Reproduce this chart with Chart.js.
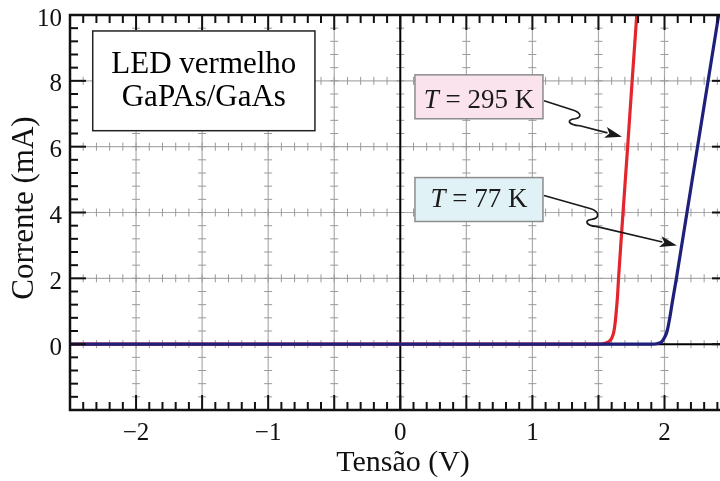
<!DOCTYPE html>
<html>
<head>
<meta charset="utf-8">
<script src="https://cdn.jsdelivr.net/npm/chart.js@4/dist/chart.umd.min.js"></script>
<style>
html,body{margin:0;padding:0;background:#fff;}
canvas{display:block;}
</style>
</head>
<body>
<canvas id="c" width="720" height="481"></canvas>
<script>
// ---- data ----
const xTicks = [-2, -1, 0, 1, 2];
const yTicks = [0, 2, 4, 6, 8, 10];

// T = 295 K (red)
const redV = [-2.5, 1.50, 1.55, 1.58, 1.60, 1.615, 1.625, 1.635, 1.645, 1.652, 1.686, 1.721, 1.755, 1.79, 1.80];
const redI = [0, 0, 0.03, 0.08, 0.18, 0.35, 0.6, 1.0, 1.5, 2, 4, 6, 8, 10, 10.6];

// T = 77 K (blue)
const blueV = [-2.5, 1.90, 1.95, 1.98, 2.00, 2.02, 2.04, 2.06, 2.09, 2.17, 2.25, 2.33, 2.41, 2.45];
const blueI = [0, 0, 0.02, 0.08, 0.2, 0.4, 0.8, 1.3, 2, 4, 6, 8, 10, 11];

const xTitle = 'Tensão (V)';
const yTitle = 'Corrente (mA)';
const boxTitle = ['LED vermelho', 'GaPAs/GaAs'];
const labelRed = ['T', ' = 295 K'];
const labelBlue = ['T', ' = 77 K'];

const SERIF = '"Liberation Serif", "Times New Roman", serif';

const toPts = (xs, ys) => xs.map((v, i) => ({x: v, y: ys[i]}));

const decor = {
  id: 'decor',
  beforeDatasetsDraw(chart) {
    const {ctx, chartArea: a, scales: {x, y}} = chart;
    ctx.save();
    ctx.lineCap = 'butt';
    // gray grid
    ctx.strokeStyle = '#ababab';
    ctx.lineWidth = 1.2;
    for (let i = -4; i <= 4; i++) {
      if (i === 0) continue;
      const px = x.getPixelForValue(i / 2);
      ctx.beginPath(); ctx.moveTo(px, a.top); ctx.lineTo(px, a.bottom); ctx.stroke();
    }
    for (let j = 1; j <= 4; j++) {
      const py = y.getPixelForValue(j * 2);
      ctx.beginPath(); ctx.moveTo(a.left, py); ctx.lineTo(a.right, py); ctx.stroke();
    }
    // little crosses along grid lines
    ctx.strokeStyle = '#9a9a9a';
    ctx.lineWidth = 1;
    for (let j = 0; j <= 4; j++) {
      const py = y.getPixelForValue(j * 2);
      for (let i = -24; i <= 24; i++) {
        const px = x.getPixelForValue(i / 10);
        ctx.beginPath(); ctx.moveTo(px, py - 4); ctx.lineTo(px, py + 4); ctx.stroke();
      }
    }
    for (let i = -4; i <= 4; i++) {
      const px = x.getPixelForValue(i / 2);
      for (let k = -4; k <= 24; k++) {
        const py = y.getPixelForValue(k * 0.4);
        ctx.beginPath(); ctx.moveTo(px - 4, py); ctx.lineTo(px + 4, py); ctx.stroke();
      }
    }
    // black zero axes
    ctx.strokeStyle = '#000';
    ctx.lineWidth = 2;
    const x0 = x.getPixelForValue(0), y0 = y.getPixelForValue(0);
    ctx.beginPath(); ctx.moveTo(x0, a.top); ctx.lineTo(x0, a.bottom); ctx.stroke();
    ctx.beginPath(); ctx.moveTo(a.left, y0); ctx.lineTo(a.right, y0); ctx.stroke();
    ctx.restore();
  },
  afterDatasetsDraw(chart) {
    const {ctx, chartArea: a, scales: {x, y}} = chart;
    const X = v => x.getPixelForValue(v), Y = v => y.getPixelForValue(v);
    ctx.save();
    // frame
    ctx.strokeStyle = '#111';
    ctx.lineWidth = 2.5;
    ctx.beginPath();
    ctx.moveTo(a.right + 2, a.top); ctx.lineTo(a.left, a.top); ctx.lineTo(a.left, a.bottom); ctx.lineTo(a.right + 2, a.bottom);
    ctx.stroke();
    // inward ticks
    ctx.lineWidth = 2;
    for (let i = -25; i <= 24; i++) {
      const px = X(i / 10);
      const len = (i % 5 === 0) ? 15 : 8;
      ctx.beginPath(); ctx.moveTo(px, a.bottom); ctx.lineTo(px, a.bottom - len); ctx.stroke();
      ctx.beginPath(); ctx.moveTo(px, a.top); ctx.lineTo(px, a.top + len); ctx.stroke();
    }
    for (let k = -5; k <= 25; k++) {
      const v = k * 0.4;
      const py = Y(v);
      const major = Math.abs(v / 2 - Math.round(v / 2)) < 1e-6;
      const len = major ? 16 : 8;
      ctx.beginPath(); ctx.moveTo(a.left, py); ctx.lineTo(a.left + len, py); ctx.stroke();
      if (major) { ctx.beginPath(); ctx.moveTo(a.right, py); ctx.lineTo(a.right - 8, py); ctx.stroke(); }
    }

    // axis titles
    ctx.fillStyle = '#111';
    ctx.textBaseline = 'alphabetic';
    ctx.textAlign = 'center';
    ctx.font = '30px ' + SERIF;
    ctx.fillText(xTitle, 403, 471);
    ctx.save();
    ctx.translate(33, 208);
    ctx.rotate(-Math.PI / 2);
    ctx.font = '31px ' + SERIF;
    ctx.fillText(yTitle, 0, 0);
    ctx.restore();

    // LED box
    const bx1 = X(-2.328), bx2 = X(-0.646), by1 = Y(9.515), by2 = Y(6.485);
    ctx.fillStyle = '#fff';
    ctx.fillRect(bx1, by1, bx2 - bx1, by2 - by1);
    ctx.strokeStyle = '#222'; ctx.lineWidth = 1.5;
    ctx.strokeRect(bx1, by1, bx2 - bx1, by2 - by1);
    ctx.fillStyle = '#000';
    ctx.font = '31px ' + SERIF;
    ctx.textAlign = 'center'; ctx.textBaseline = 'alphabetic';
    ctx.fillText(boxTitle[0], (bx1 + bx2) / 2, Y(8.242));
    ctx.fillText(boxTitle[1], (bx1 + bx2) / 2, Y(7.242));

    // temperature label boxes
    function tBox(x1, x2, y1, y2, fill, parts, base) {
      const L = X(x1), R = X(x2), T = Y(y1), B = Y(y2);
      ctx.fillStyle = fill;
      ctx.fillRect(L, T, R - L, B - T);
      ctx.strokeStyle = '#8c8c8c'; ctx.lineWidth = 1.5;
      ctx.strokeRect(L, T, R - L, B - T);
      ctx.fillStyle = '#1a1a1a';
      ctx.textAlign = 'left';
      const fi = 'italic 27px ' + SERIF, fn = '27px ' + SERIF;
      ctx.font = fi; const w1 = ctx.measureText(parts[0]).width;
      ctx.font = fn; const w2 = ctx.measureText(parts[1]).width;
      const sx = (L + R) / 2 - (w1 + w2) / 2;
      ctx.font = fi; ctx.fillText(parts[0], sx, Y(base));
      ctx.font = fn; ctx.fillText(parts[1], sx + w1, Y(base));
    }
    tBox(0.111, 1.080, 8.182, 6.848, '#fbe3ee', labelRed, 7.182);
    tBox(0.111, 1.080, 5.061, 3.727, '#e1f2f7', labelBlue, 4.152);

    // wavy arrows
    function arrow(p) {
      ctx.strokeStyle = '#1a1a1a'; ctx.lineWidth = 1.7;
      ctx.beginPath();
      ctx.moveTo(X(p[0][0]), Y(p[0][1]));
      ctx.lineTo(X(p[1][0]), Y(p[1][1]));
      ctx.bezierCurveTo(X(p[2][0]), Y(p[2][1]), X(p[3][0]), Y(p[3][1]), X(p[4][0]), Y(p[4][1]));
      ctx.bezierCurveTo(X(p[5][0]), Y(p[5][1]), X(p[6][0]), Y(p[6][1]), X(p[7][0]), Y(p[7][1]));
      const tx = X(p[8][0]), ty = Y(p[8][1]);
      const fx = X(p[7][0]), fy = Y(p[7][1]);
      const ang = Math.atan2(ty - fy, tx - fx);
      const hl = 17, hw = 5.5;
      const bx = tx - hl * Math.cos(ang), byy = ty - hl * Math.sin(ang);
      ctx.lineTo(bx + 2 * Math.cos(ang), byy + 2 * Math.sin(ang));
      ctx.stroke();
      ctx.fillStyle = '#1a1a1a';
      ctx.beginPath();
      ctx.moveTo(tx, ty);
      ctx.lineTo(bx - hw * Math.sin(ang), byy + hw * Math.cos(ang));
      ctx.lineTo(bx + 4 * Math.cos(ang), byy + 4 * Math.sin(ang));
      ctx.lineTo(bx + hw * Math.sin(ang), byy - hw * Math.cos(ang));
      ctx.closePath();
      ctx.fill();
    }
    arrow([[1.088, 7.394], [1.300, 7.121], [1.375, 7.030], [1.375, 6.879], [1.322, 6.848],
           [1.254, 6.818], [1.269, 6.667], [1.360, 6.636], [1.678, 6.303]]);
    arrow([[1.088, 4.515], [1.436, 4.121], [1.512, 4.030], [1.512, 3.818], [1.444, 3.788],
           [1.391, 3.758], [1.406, 3.606], [1.481, 3.576], [2.094, 3.0]]);
    ctx.restore();
  }
};

const fmt = v => (v < 0 ? '\u2212' + Math.abs(v) : String(v));

new Chart(document.getElementById('c'), {
  type: 'line',
  data: {
    datasets: [
      {label: 'T = 77 K', data: toPts(blueV, blueI), borderColor: '#1f1f7c', borderWidth: 3.2,
       pointRadius: 0, cubicInterpolationMode: 'monotone', clip: 0, order: 0},
      {label: 'T = 295 K', data: toPts(redV, redI), borderColor: '#e3262d', borderWidth: 3.2,
       pointRadius: 0, cubicInterpolationMode: 'monotone', clip: 0, order: 1}
    ]
  },
  options: {
    responsive: false,
    devicePixelRatio: 1,
    animation: false,
    layout: {padding: {top: 14, right: 0, left: 0, bottom: 0}},
    plugins: {legend: {display: false}, tooltip: {enabled: false}},
    scales: {
      x: {
        type: 'linear', min: -2.5, max: 2.42,
        grid: {display: false}, border: {display: false},
        afterBuildTicks: s => { s.ticks = xTicks.map(v => ({value: v})); },
        afterFit: s => { s.height = 71; },
        ticks: {color: '#111', padding: 0, maxRotation: 0, autoSkip: false,
                font: {family: SERIF, size: 25}, callback: v => fmt(v)},
        title: {display: false}
      },
      y: {
        type: 'linear', min: -2, max: 10,
        grid: {display: false}, border: {display: false},
        afterBuildTicks: s => { s.ticks = yTicks.map(v => ({value: v})); },
        afterFit: s => { s.width = 70; },
        ticks: {color: '#111', padding: 0, labelOffset: 4, autoSkip: false,
                font: {family: SERIF, size: 25}, callback: v => fmt(v)},
        title: {display: false}
      }
    }
  },
  plugins: [decor]
});
</script>
</body>
</html>
